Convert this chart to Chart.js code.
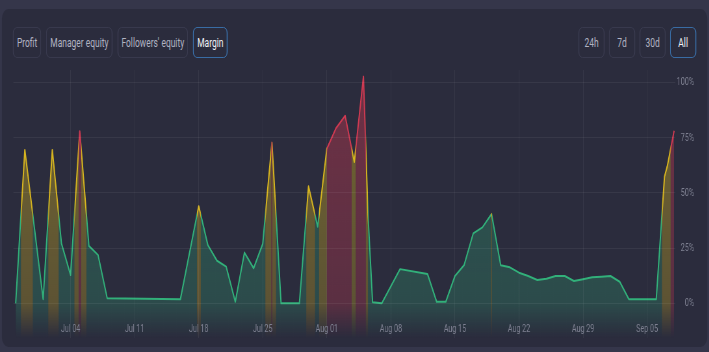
<!DOCTYPE html>
<html>
<head>
<meta charset="utf-8">
<script src="https://cdn.jsdelivr.net/npm/chart.js@4/dist/chart.umd.min.js"></script>
<style>
  html, body { margin: 0; padding: 0; }
  body { width: 709px; height: 352px; overflow: hidden; background: #35364a; font-family: Roboto, sans-serif; }
  /* the reference is horizontally squashed, so lay out wide and scale X */
  #stage { position: absolute; left: 0; top: 0; width: 1091px; height: 352px; transform: scaleX(0.65); transform-origin: 0 0; }
  .card { position: absolute; left: 3px; top: 9px; width: 1085px; height: 338px; background: #2b2c3d; border-radius: 10px; }
  .tabs { position: absolute; top: 27px; display: flex; gap: 8px; }
  .tabs.left { left: 20px; }
  .tabs.right { left: 890px; gap: 7px; }
  .btn { height: 29px; line-height: 29px; padding: 0 5px; border: 1px solid #3b3d51; border-radius: 6px; color: #b1b3c2; font-size: 13px; white-space: nowrap; }
  .tabs.right .btn { width: 38px; padding: 0; text-align: center; }
  .btn.active { border-color: #3d7bbb; color: #f0f1f6; }
  .chart-box { position: absolute; left: 0; top: 0; width: 1091px; height: 352px; }
</style>
</head>
<body>
<div id="stage">
  <div class="card"></div>
  <div class="tabs left">
    <div class="btn">Profit</div>
    <div class="btn">Manager equity</div>
    <div class="btn">Followers' equity</div>
    <div class="btn active">Margin</div>
  </div>
  <div class="tabs right">
    <div class="btn">24h</div>
    <div class="btn">7d</div>
    <div class="btn">30d</div>
    <div class="btn active">All</div>
  </div>
  <div class="chart-box"><canvas id="marginChart"></canvas></div>
</div>
<script>
// days since Jun 28
const dayOffsets = [0, 1, 3, 4, 5, 6, 7, 8, 9, 10, 18, 20, 21, 22, 23, 24, 25, 26, 27, 28,
  29, 31, 32, 33, 34, 35, 36, 37, 38, 38.5, 39, 40, 42, 45, 46, 47, 48, 49, 50, 51,
  52, 53, 54, 55, 56, 57, 58, 59, 60, 61, 62, 63, 64, 65, 66, 67, 70, 70.9, 71.2, 71.55, 71.95];
const marginPct = [0, 69.5, 1.9, 69.5, 27.2, 12.8, 78, 26, 21.9, 2.3, 1.9, 44, 26.4, 19.3, 16.6, 0.7, 23, 15.9, 27, 72.8,
  0, 0, 53, 34.7, 70, 79.3, 85, 64, 102.7, 40, 0.5, 0, 15.5, 13.3, 0.7, 0.7, 12.4, 17.3, 31.7, 34.4,
  40.5, 17.3, 16.3, 13.9, 12.4, 10.6, 11.1, 12.4, 12.4, 10.1, 10.9, 11.8, 12.1, 12.4, 9.8, 1.9, 1.9, 57.4, 62, 69.5, 78.2];

const tickDays = [6, 13, 20, 27, 34, 41, 48, 55, 62, 69];
const tickLabels = ['Jul 04', 'Jul 11', 'Jul 18', 'Jul 25', 'Aug 01', 'Aug 08', 'Aug 15', 'Aug 22', 'Aug 29', 'Sep 05'];
const yTicks = [0, 25, 50, 75, 100];

// margin bands: each band owns the x ranges where the line sits inside it
const bandNames = ['Normal', 'Warning', 'Danger'];
const bandFrom = [null, 40, 70];
const bandTo = [40, 70, null];
const bandColors = ['50,176,122', '214,180,32', '206,58,82'];
const bandAlphas = [0.34, 0.42, 0.42];

const points = dayOffsets.map((d, i) => ({ x: d, y: marginPct[i] }));
const gridColor = 'rgba(255,255,255,0.06)';
const tickColor = '#7e8091';

function columnFill(rgb, alpha) {
  return (c) => {
    const a = c.chart.chartArea;
    if (!a) return null;
    const g = c.chart.ctx.createLinearGradient(0, a.top, 0, a.bottom);
    g.addColorStop(0, `rgba(${rgb},${alpha})`);
    g.addColorStop(0.87, `rgba(${rgb},${alpha * 0.7})`);
    g.addColorStop(1, `rgba(${rgb},0)`);
    return g;
  };
}

// adds full-height rects for x ranges where the line is above th (th null = whole area)
function rectsAbove(chart, meta, th) {
  const ctx = chart.ctx, area = chart.chartArea;
  const h = area.bottom - area.top + 4;
  if (th == null) { ctx.rect(area.left - 4, area.top - 2, area.right - area.left + 8, h); return; }
  const vals = meta._dataset.data.map(p => p.y);
  const px = meta.data.map(p => p.x);
  let start = vals[0] > th ? px[0] - 4 : null;
  for (let i = 1; i < vals.length; i++) {
    const above = vals[i] > th;
    if ((vals[i - 1] > th) !== above) {
      const t = (th - vals[i - 1]) / (vals[i] - vals[i - 1]);
      const cx = px[i - 1] + (px[i] - px[i - 1]) * t;
      if (above) start = cx;
      else { ctx.rect(start, area.top - 2, cx - start, h); start = null; }
    }
  }
  if (start !== null) ctx.rect(start, area.top - 2, area.right + 4 - start, h);
}

const bandClip = {
  id: 'bandClip',
  _prep(chart, meta) {
    if (!meta) return;
    const ds = meta._dataset;
    chart.ctx.save();
    chart.ctx.beginPath();
    rectsAbove(chart, meta, ds.bandFrom);
    if (ds.bandTo != null) rectsAbove(chart, meta, ds.bandTo);
    chart.ctx.clip('evenodd');
    meta._bandClipped = true;
  },
  beforeDatasetsDraw(chart) {
    const seq = chart.getSortedVisibleDatasetMetas().slice().reverse();
    this._prep(chart, seq[0]);
  },
  afterDatasetDraw(chart, args) {
    if (args.meta._bandClipped) { chart.ctx.restore(); args.meta._bandClipped = false; }
    const seq = chart.getSortedVisibleDatasetMetas().slice().reverse();
    this._prep(chart, seq[seq.indexOf(args.meta) + 1]);
  }
};

const ctx = document.getElementById('marginChart').getContext('2d');
new Chart(ctx, {
  type: 'line',
  data: {
    datasets: bandNames.map((name, i) => ({
      label: name,
      data: points,
      bandFrom: bandFrom[i],
      bandTo: bandTo[i],
      borderColor: `rgb(${bandColors[i]})`,
      backgroundColor: columnFill(bandColors[i], bandAlphas[i]),
      borderWidth: 2,
      borderJoinStyle: 'round',
      fill: 'start',
      tension: 0,
      pointRadius: 0,
      order: bandNames.length - i
    }))
  },
  options: {
    responsive: true,
    maintainAspectRatio: false,
    animation: false,
    layout: { padding: { left: 20.6, top: 70, right: 23.3, bottom: 0 } },
    plugins: { legend: { display: false }, tooltip: { enabled: false } },
    scales: {
      x: {
        type: 'linear',
        min: -0.25,
        max: 72.05,
        grid: { color: gridColor, drawTicks: false, z: 1 },
        border: { display: false },
        afterBuildTicks: (s) => { s.ticks = tickDays.map(v => ({ value: v })); },
        afterFit: (s) => { s.height = 14; },
        ticks: {
          z: 1,
          mirror: true,
          color: tickColor,
          font: { family: 'Roboto', size: 11 },
          padding: 2.5,
          maxRotation: 0,
          autoSkip: false,
          callback: (v) => tickLabels[tickDays.indexOf(v)]
        }
      },
      y: {
        position: 'right',
        min: -15.7,
        max: 105.7,
        grid: { color: gridColor, drawTicks: false, z: 1 },
        border: { display: false },
        afterBuildTicks: (s) => { s.ticks = yTicks.map(v => ({ value: v })); },
        afterFit: (s) => { s.width = 29.2; },
        ticks: {
          z: 1,
          color: tickColor,
          font: { family: 'Roboto', size: 11 },
          padding: 3,
          crossAlign: 'far',
          callback: (v) => v + '%'
        }
      }
    }
  },
  plugins: [bandClip]
});
</script>
</body>
</html>
